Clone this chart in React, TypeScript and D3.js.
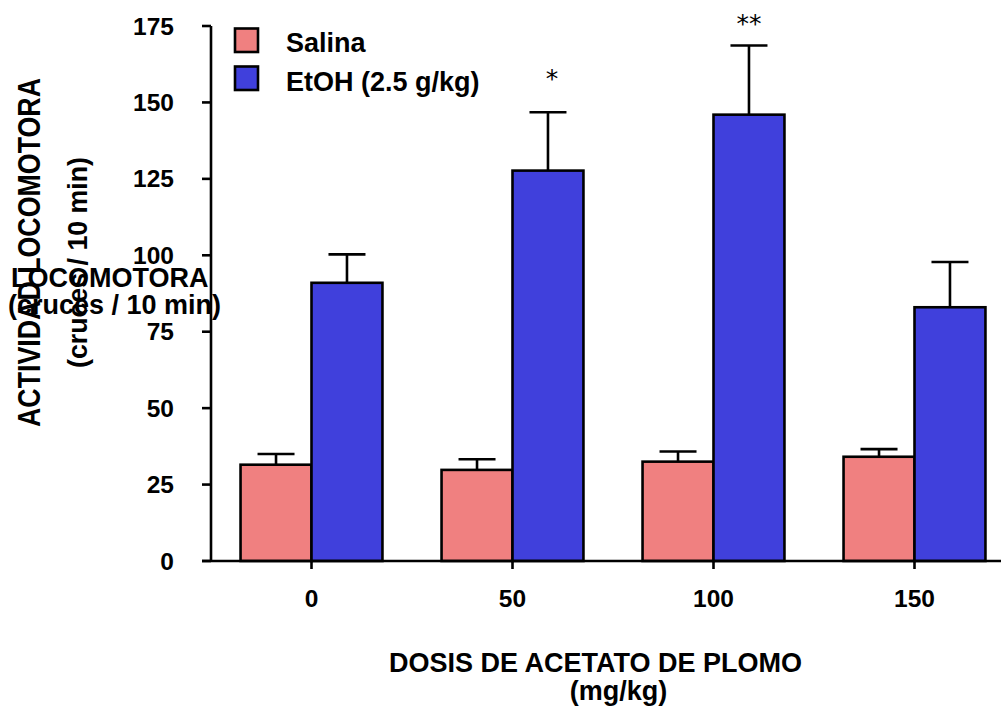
import React from "react";
import * as d3 from "d3";

const doses = ["0", "50", "100", "150"];
const series = ["Salina", "EtOH (2.5 g/kg)"];
const salinaMean = [31.5, 29.8, 32.5, 34.1];
const salinaErr = [3.5, 3.5, 3.3, 2.5];
const etohMean = [91.0, 127.7, 146.0, 83.0];
const etohErr = [9.3, 19.1, 22.6, 14.8];
const stars = ["", "*", "**", ""];
const starAt = [0, 158, 176, 0];
const yTicks = [0, 25, 50, 75, 100, 125, 150, 175];
const colors = ["#F08080", "#4040DC"];

const W = 1003;
const H = 707;
const FONT = "'Liberation Sans', Arial, Helvetica, sans-serif";

export default function App() {
  const y = d3.scaleLinear().domain([0, 175]).range([561, 26]);
  const x0 = d3
    .scaleBand<string>()
    .domain(doses)
    .range([211, 1015])
    .paddingInner(0.294)
    .paddingOuter(0.147);
  const x1 = d3
    .scaleBand<string>()
    .domain(series)
    .range([0, x0.bandwidth()]);
  const means = [salinaMean, etohMean];
  const errs = [salinaErr, etohErr];
  const axisX = 211;
  const baseY = y(0);
  const sw = 2.6;
  const capW = 37;

  return (
    <svg width={W} height={H} style={{ display: "block", position: "absolute", left: 0, top: 0 }} fontFamily={FONT}>
      <rect x={0} y={0} width={W} height={H} fill="#fff" />
      {/* rotated y titles */}
      <text
        transform={`translate(40,252.5) rotate(-90)`}
        textAnchor="middle"
        fontSize={31}
        fontWeight="bold"
        textLength={349}
        lengthAdjust="spacingAndGlyphs"
      >
        ACTIVIDAD LOCOMOTORA
      </text>
      <text
        transform={`translate(87,262.5) rotate(-90)`}
        textAnchor="middle"
        fontSize={27}
        fontWeight="bold"
        textLength={211}
        lengthAdjust="spacingAndGlyphs"
      >
        (cruces / 10 min)
      </text>
      {/* bars */}
      {doses.map((d, i) =>
        series.map((s, j) => {
          const bx = (x0(d) as number) + (x1(s) as number);
          const bw = x1.bandwidth();
          const top = y(means[j][i]);
          const cx = bx + bw / 2;
          const cap = y(means[j][i] + errs[j][i]);
          return (
            <g key={d + s}>
              <line x1={cx} x2={cx} y1={top} y2={cap} stroke="#000" strokeWidth={sw} />
              <line x1={cx - capW / 2} x2={cx + capW / 2} y1={cap} y2={cap} stroke="#000" strokeWidth={sw} />
              <rect x={bx} y={top} width={bw} height={baseY - top} fill={colors[j]} stroke="#000" strokeWidth={sw} />
            </g>
          );
        })
      )}
      {/* significance stars */}
      {doses.map((d, i) =>
        stars[i] ? (
          <text
            key={"st" + d}
            x={(x0(d) as number) + (x1(series[1]) as number) + x1.bandwidth() / 2 + (stars[i].length === 1 ? 4 : 0)}
            y={y(starAt[i]) + 9}
            textAnchor="middle"
            fontSize={25}
            fontFamily="'DejaVu Sans', sans-serif"
          >
            {stars[i]}
          </text>
        ) : null
      )}
      {/* axes */}
      <line x1={axisX} x2={axisX} y1={y(175)} y2={baseY} stroke="#000" strokeWidth={sw} />
      <line x1={202} x2={1001} y1={baseY} y2={baseY} stroke="#000" strokeWidth={sw} />
      {yTicks.map((t) => (
        <g key={"yt" + t}>
          <line x1={202} x2={axisX} y1={y(t)} y2={y(t)} stroke="#000" strokeWidth={sw} />
          <text x={174} y={y(t)} dy="0.35em" textAnchor="end" fontSize={24.5} fontWeight="bold">
            {t}
          </text>
        </g>
      ))}
      {doses.map((d) => {
        const cx = (x0(d) as number) + x0.bandwidth() / 2;
        return (
          <g key={"xt" + d}>
            <line x1={cx} x2={cx} y1={baseY} y2={baseY + 8} stroke="#000" strokeWidth={sw} />
            <text x={cx} y={607} textAnchor="middle" fontSize={24.5} fontWeight="bold">
              {d}
            </text>
          </g>
        );
      })}
      {/* x title */}
      <text x={595.5} y={672} textAnchor="middle" fontSize={27} fontWeight="bold">
        DOSIS DE ACETATO DE PLOMO
      </text>
      <text x={618.5} y={700} textAnchor="middle" fontSize={27} fontWeight="bold">
        (mg/kg)
      </text>
      {/* horizontal overlay y title */}
      <text x={11} y={287} fontSize={27} fontWeight="bold">
        LOCOMOTORA
      </text>
      <text x={8} y={314} fontSize={27} fontWeight="bold">
        (cruces / 10 min)
      </text>
      {/* legend */}
      {series.map((s, j) => (
        <g key={"lg" + s}>
          <rect x={235} y={28.5 + j * 38} width={23} height={23.5} fill={colors[j]} stroke="#000" strokeWidth={sw} />
          <text x={286} y={52 + j * 38.5} fontSize={27} fontWeight="bold">
            {s}
          </text>
        </g>
      ))}
    </svg>
  );
}
